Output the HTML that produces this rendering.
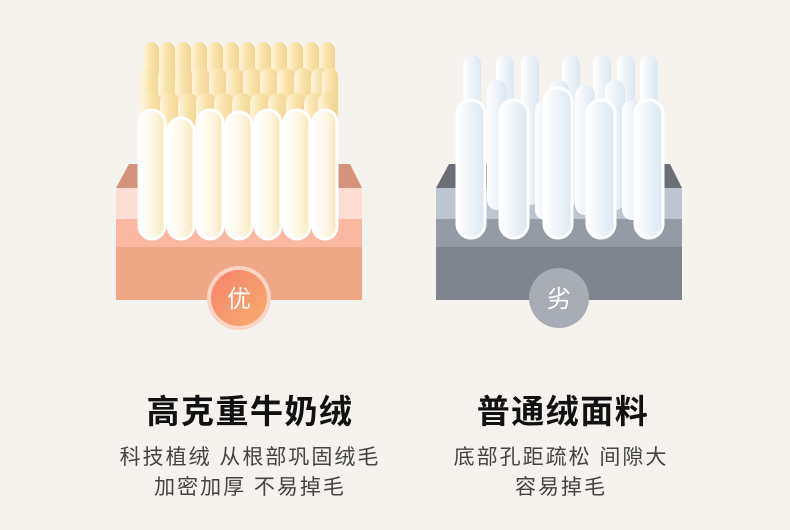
<!DOCTYPE html>
<html><head><meta charset="utf-8"><style>
html,body{margin:0;padding:0;background:#f6f3ef;}
body{width:790px;height:530px;overflow:hidden;position:relative;font-family:"Liberation Sans","Noto Sans CJK SC",sans-serif;}
svg{position:absolute;left:0;top:0}
.t{position:absolute;width:360px;text-align:center;color:#111;font-weight:bold;font-size:33px;letter-spacing:1.5px;top:385px}
.s{position:absolute;width:360px;text-align:center;color:#444;font-size:21px;letter-spacing:2px;line-height:30px;top:443px}
</style></head><body>
<svg width="790" height="530" viewBox="0 0 790 530">
<defs>
<linearGradient id="cr" x1="0" x2="1"><stop offset="0" stop-color="#fff6dc"/><stop offset="0.5" stop-color="#f7e2a8"/><stop offset="1" stop-color="#f2d494"/></linearGradient>
<linearGradient id="cw" x1="0" x2="1"><stop offset="0" stop-color="#ffffff"/><stop offset="0.6" stop-color="#fdf6e2"/><stop offset="1" stop-color="#f6e6b8"/></linearGradient>
<linearGradient id="bl" x1="0" x2="1"><stop offset="0" stop-color="#ffffff"/><stop offset="1" stop-color="#dbe7f2"/></linearGradient>
<linearGradient id="og" x1="0" x2="1" y1="0" y2="1"><stop offset="0" stop-color="#f7826c"/><stop offset="1" stop-color="#f6ad6e"/></linearGradient>
</defs>
<polygon points="129,164 350,164 362,188 116,188" fill="#d4937a"/>
<rect x="116" y="188" width="246" height="31" fill="#fdddd3"/>
<rect x="116" y="219" width="246" height="28" fill="#f9b89f"/>
<rect x="116" y="247" width="246" height="53" fill="#eea886"/>
<g fill="url(#cr)">
<rect x="143" y="42" width="16" height="150" rx="8"/><rect x="159" y="42" width="16" height="150" rx="8"/><rect x="175" y="42" width="16" height="150" rx="8"/><rect x="191" y="42" width="16" height="150" rx="8"/><rect x="207" y="42" width="16" height="150" rx="8"/><rect x="223" y="42" width="16" height="150" rx="8"/><rect x="239" y="42" width="16" height="150" rx="8"/><rect x="255" y="42" width="16" height="150" rx="8"/><rect x="271" y="42" width="16" height="150" rx="8"/><rect x="287" y="42" width="16" height="150" rx="8"/><rect x="303" y="42" width="16" height="150" rx="8"/><rect x="319" y="42" width="16" height="150" rx="8"/>
<rect x="141" y="68" width="18" height="130" rx="9"/><rect x="158" y="68" width="18" height="130" rx="9"/><rect x="175" y="68" width="18" height="130" rx="9"/><rect x="192" y="68" width="18" height="130" rx="9"/><rect x="209" y="68" width="18" height="130" rx="9"/><rect x="226" y="68" width="18" height="130" rx="9"/><rect x="243" y="68" width="18" height="130" rx="9"/><rect x="260" y="68" width="18" height="130" rx="9"/><rect x="277" y="68" width="18" height="130" rx="9"/><rect x="294" y="68" width="18" height="130" rx="9"/><rect x="311" y="68" width="18" height="130" rx="9"/><rect x="322" y="68" width="16" height="130" rx="8"/>
<rect x="142" y="93" width="20" height="110" rx="10"/><rect x="160" y="93" width="20" height="110" rx="10"/><rect x="178" y="93" width="20" height="110" rx="10"/><rect x="196" y="93" width="20" height="110" rx="10"/><rect x="214" y="93" width="20" height="110" rx="10"/><rect x="232" y="93" width="20" height="110" rx="10"/><rect x="250" y="93" width="20" height="110" rx="10"/><rect x="268" y="93" width="20" height="110" rx="10"/><rect x="286" y="93" width="20" height="110" rx="10"/><rect x="304" y="93" width="20" height="110" rx="10"/><rect x="318" y="93" width="18" height="110" rx="9"/>
</g>
<g fill="url(#cw)" stroke="#ffffff" stroke-width="3">
<rect x="139" y="110" width="26" height="129" rx="13"/><rect x="168" y="118" width="26" height="121" rx="13"/><rect x="197" y="110" width="26" height="129" rx="13"/><rect x="226" y="112" width="26" height="127" rx="13"/><rect x="255" y="110" width="26" height="129" rx="13"/><rect x="284" y="110" width="26" height="129" rx="13"/><rect x="313" y="110" width="24" height="129" rx="12"/>
</g>
<circle cx="239" cy="298" r="32" fill="#fbd4c4"/>
<circle cx="239" cy="298" r="28" fill="url(#og)"/>
<text x="239" y="307" text-anchor="middle" font-size="24" fill="#fff" font-family="Noto Sans CJK SC, sans-serif">优</text>
<polygon points="449,164 670,164 682,188 436,188" fill="#6c6f76"/>
<rect x="436" y="188" width="246" height="31" fill="#bcc5d0"/>
<rect x="436" y="219" width="246" height="28" fill="#959ba4"/>
<rect x="436" y="247" width="246" height="53" fill="#80848c"/>
<g fill="url(#bl)">
<rect x="463" y="55" width="18" height="150" rx="9"/><rect x="496" y="55" width="18" height="150" rx="9"/><rect x="521" y="55" width="18" height="150" rx="9"/><rect x="562" y="55" width="18" height="150" rx="9"/><rect x="593" y="55" width="18" height="150" rx="9"/><rect x="617" y="55" width="18" height="150" rx="9"/><rect x="640" y="55" width="18" height="150" rx="9"/>
<rect x="487" y="80" width="20" height="130" rx="10"/><rect x="549" y="80" width="20" height="130" rx="10"/><rect x="575" y="85" width="20" height="130" rx="10"/><rect x="605" y="80" width="20" height="130" rx="10"/>
<rect x="503" y="100" width="20" height="120" rx="10"/><rect x="535" y="100" width="20" height="120" rx="10"/><rect x="622" y="100" width="20" height="120" rx="10"/>
</g>
<g fill="url(#bl)" stroke="#ffffff" stroke-width="3">
<rect x="457" y="100" width="28" height="138" rx="14"/><rect x="500" y="100" width="28" height="138" rx="14"/><rect x="544" y="88" width="28" height="150" rx="14"/><rect x="587" y="100" width="28" height="138" rx="14"/><rect x="635" y="100" width="28" height="138" rx="14"/>
</g>
<circle cx="559" cy="298" r="30" fill="#a8adb5"/>
<text x="559" y="307" text-anchor="middle" font-size="24" fill="#fff" font-family="Noto Sans CJK SC, sans-serif">劣</text>
</svg>
<div class="t" style="left:70px">高克重牛奶绒</div>
<div class="t" style="left:383px">普通绒面料</div>
<div class="s" style="left:70px">科技植绒 从根部巩固绒毛<br>加密加厚 不易掉毛</div>
<div class="s" style="left:381px">底部孔距疏松 间隙大<br>容易掉毛</div>
</body></html>
